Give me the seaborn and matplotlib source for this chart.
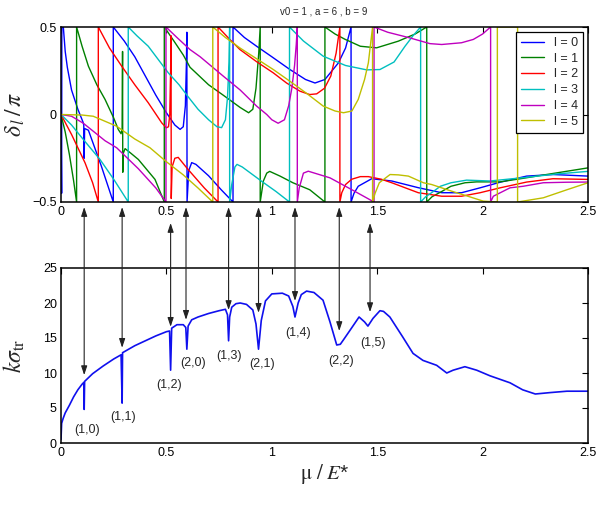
import numpy as np
import pandas as pd
import matplotlib
matplotlib.use("Agg")
import matplotlib.pyplot as plt
import matplotlib.transforms as mtransforms
import seaborn as sns

# ---------------- data: phase shifts delta_l / pi (wrapped to [-0.5, 0.5]) ----------------
l0_x = [0.0, 0.003, 0.004, 0.011, 0.02, 0.03, 0.05, 0.08, 0.105, 0.108, 0.110, 0.112, 0.13, 0.19, 0.248,
        0.248, 0.30, 0.35, 0.40, 0.45, 0.50, 0.54, 0.565, 0.58, 0.59, 0.595, 0.597, 0.598,
        0.606, 0.62, 0.64, 0.70, 0.76, 0.816, 0.816, 0.87, 0.928, 1.0, 1.086, 1.16, 1.205, 1.252,
        1.316, 1.35, 1.376, 1.376, 1.39, 1.41, 1.474, 1.569, 1.694, 1.806, 1.90, 1.988, 2.083, 2.209,
        2.334, 2.5]
l0_y = [0.0, -0.45, 0.5, 0.5, 0.36, 0.27, 0.14, 0.03, -0.045, -0.06, -0.25, -0.08, -0.09, -0.29, -0.5,
        0.5, 0.42, 0.33, 0.22, 0.11, 0.01, -0.06, -0.085, -0.07, 0.05, 0.3, 0.47, -0.5,
        -0.32, -0.275, -0.285, -0.35, -0.43, -0.5, 0.5, 0.44, 0.39, 0.33, 0.257, 0.2, 0.18, 0.2,
        0.295, 0.38, 0.5, -0.5, -0.45, -0.41, -0.367, -0.38, -0.418, -0.447, -0.447, -0.419, -0.387,
        -0.352, -0.343, -0.352]

l1_x = [0.0, 0.02, 0.04, 0.06, 0.074, 0.074, 0.1, 0.13, 0.17, 0.209, 0.25, 0.272, 0.285, 0.29, 0.292,
        0.293, 0.296, 0.304, 0.33, 0.367, 0.446, 0.49, 0.49, 0.53, 0.58, 0.612, 0.70, 0.77, 0.85, 0.89,
        0.91, 0.925, 0.938, 0.945, 0.945, 0.96, 0.976, 0.99, 1.039, 1.10, 1.18, 1.252, 1.252, 1.30,
        1.347, 1.42, 1.497, 1.60, 1.68, 1.735, 1.735, 1.76, 1.806, 1.85, 1.917, 1.972, 2.083, 2.19,
        2.334, 2.5]
l1_y = [0.0, -0.1, -0.23, -0.38, -0.5, 0.5, 0.39, 0.276, 0.17, 0.086, -0.02, -0.086, -0.11, -0.08, 0.36,
        -0.33, -0.22, -0.195, -0.22, -0.257, -0.371, -0.5, 0.5, 0.43, 0.34, 0.27, 0.17, 0.11, 0.04, 0.01,
        0.03, 0.15, 0.35, 0.5, -0.5, -0.38, -0.335, -0.325, -0.352, -0.39, -0.43, -0.5, 0.5, 0.46,
        0.43, 0.39, 0.381, 0.419, 0.46, 0.5, -0.5, -0.47, -0.44, -0.41, -0.39, -0.385, -0.385, -0.365,
        -0.337, -0.305]

l2_x = [0.0, 0.05, 0.114, 0.15, 0.177, 0.177, 0.23, 0.288, 0.35, 0.414, 0.478, 0.50, 0.51, 0.516, 0.52,
        0.522, 0.523, 0.527, 0.54, 0.556, 0.60, 0.68, 0.745, 0.745, 0.80, 0.849, 0.93, 1.007, 1.07,
        1.134, 1.18, 1.213, 1.25, 1.28, 1.305, 1.323, 1.323, 1.332, 1.35, 1.379, 1.42, 1.458, 1.52,
        1.569, 1.695, 1.806, 1.90, 1.988, 2.083, 2.209, 2.334, 2.5]
l2_y = [0.0, -0.114, -0.276, -0.39, -0.5, 0.5, 0.38, 0.276, 0.17, 0.067, -0.048, -0.076, -0.07, 0.0, 0.25,
        0.45, -0.48, -0.3, -0.25, -0.245, -0.31, -0.42, -0.5, 0.5, 0.43, 0.371, 0.3, 0.238, 0.18,
        0.133, 0.114, 0.118, 0.15, 0.22, 0.35, 0.5, -0.5, -0.447, -0.4, -0.37, -0.355, -0.355, -0.37,
        -0.39, -0.447, -0.467, -0.467, -0.447, -0.419, -0.386, -0.367, -0.371]

l3_x = [0.0, 0.05, 0.106, 0.185, 0.25, 0.319, 0.319, 0.36, 0.414, 0.509, 0.56, 0.604, 0.65, 0.70, 0.74,
        0.762, 0.78, 0.79, 0.797, 0.80, 0.80, 0.81, 0.825, 0.835, 0.86, 0.95, 1.02, 1.084, 1.084, 1.15,
        1.244, 1.35, 1.45, 1.513, 1.58, 1.632, 1.67, 1.706, 1.706, 1.73, 1.758, 1.80, 1.85, 1.924,
        2.035, 2.20, 2.35, 2.5]
l3_y = [0.0, -0.06, -0.143, -0.257, -0.37, -0.5, 0.5, 0.45, 0.39, 0.238, 0.17, 0.1, 0.03, -0.03, -0.07,
        -0.075, -0.03, 0.1, 0.3, 0.5, -0.5, -0.4, -0.3, -0.285, -0.3, -0.38, -0.44, -0.5, 0.5, 0.42,
        0.333, 0.28, 0.255, 0.257, 0.3, 0.39, 0.45, 0.5, -0.5, -0.47, -0.447, -0.41, -0.39, -0.375,
        -0.38, -0.36, -0.34, -0.325]

l4_x = [0.0, 0.05, 0.106, 0.209, 0.264, 0.367, 0.45, 0.498, 0.498, 0.55, 0.612, 0.66, 0.77, 0.85,
        0.928, 0.976, 1.0, 1.03, 1.06, 1.08, 1.095, 1.108, 1.116, 1.121, 1.121, 1.13, 1.15, 1.173,
        1.276, 1.38, 1.485, 1.485, 1.55, 1.648, 1.75, 1.806, 1.90, 1.956, 2.0, 2.038, 2.038, 2.051,
        2.13, 2.193, 2.288, 2.40, 2.5]
l4_y = [0.0, -0.01, -0.05, -0.15, -0.19, -0.31, -0.42, -0.5, 0.5, 0.44, 0.371, 0.33, 0.219, 0.14,
        0.048, 0.0, -0.03, -0.05, -0.03, 0.05, 0.15, 0.28, 0.4, 0.5, -0.5, -0.42, -0.335, -0.324,
        -0.362, -0.43, -0.5, 0.5, 0.47, 0.44, 0.405, 0.40, 0.41, 0.429, 0.46, 0.5, -0.5, -0.467,
        -0.419, -0.41, -0.39, -0.387, -0.386]

l5_x = [0.0, 0.10, 0.153, 0.264, 0.35, 0.422, 0.50, 0.58, 0.65, 0.72, 0.72, 0.78, 0.849, 1.007, 1.086,
        1.166, 1.244, 1.30, 1.34, 1.38, 1.41, 1.44, 1.458, 1.478, 1.478, 1.49, 1.51, 1.561, 1.60,
        1.648, 1.719, 1.758, 1.853, 1.93, 2.003, 2.07, 2.07, 2.166, 2.166, 2.288, 2.40, 2.5]
l5_y = [0.0, -0.003, -0.01, -0.067, -0.14, -0.19, -0.27, -0.345, -0.42, -0.5, 0.5, 0.44, 0.38, 0.257, 0.19,
        0.12, 0.048, 0.02, 0.01, 0.02, 0.086, 0.2, 0.295, 0.5, -0.5, -0.45, -0.39, -0.343, -0.345,
        -0.352, -0.39, -0.4, -0.438, -0.467, -0.495, -0.5, 0.5, 0.5, -0.5, -0.476, -0.43, -0.39]

phase_labels = ["l = 0", "l = 1", "l = 2", "l = 3", "l = 4", "l = 5"]
phase_colors = ["#0000ff", "#008000", "#ff0000", "#00bfbf", "#bf00bf", "#bfbf00"]

# ---------------- data: k * sigma_tr ----------------
sig_x = [0.0, 0.003, 0.01, 0.02, 0.04, 0.06, 0.08, 0.10, 0.108, 0.110, 0.112, 0.15, 0.20, 0.25, 0.285,
         0.290, 0.292, 0.35, 0.40, 0.45, 0.50, 0.515, 0.520, 0.525, 0.55, 0.58, 0.592, 0.597, 0.603,
         0.62, 0.65, 0.70, 0.75, 0.78, 0.79, 0.795, 0.80, 0.81, 0.83, 0.85, 0.88, 0.91, 0.925, 0.937,
         0.95, 0.97, 1.0, 1.05, 1.08, 1.10, 1.11, 1.125, 1.14, 1.165, 1.20, 1.243, 1.276, 1.308, 1.325,
         1.339, 1.371, 1.414, 1.44, 1.456, 1.48, 1.513, 1.53, 1.56, 1.62, 1.67, 1.717, 1.782, 1.83,
         1.86, 1.916, 1.972, 2.035, 2.13, 2.19, 2.25, 2.32, 2.40, 2.5]
sig_y = [0.5, 2.8, 3.5, 4.3, 5.4, 6.6, 7.6, 8.4, 8.65, 4.8, 8.8, 9.9, 11.0, 12.0, 12.6,
         5.7, 12.9, 13.9, 14.6, 15.3, 15.9, 16.0, 10.4, 16.4, 16.9, 16.9, 16.5, 13.4, 16.7,
         17.6, 18.0, 18.5, 18.9, 19.1, 18.3, 14.6, 18.0, 19.4, 19.9, 20.0, 19.8, 19.0, 17.0, 13.4,
         17.5, 20.3, 21.3, 21.4, 21.0, 19.5, 18.0, 20.0, 21.2, 21.7, 21.5, 20.4, 17.3, 14.0, 14.1,
         14.7, 16.1, 18.0, 17.3, 16.7, 17.8, 18.9, 18.8, 18.0, 15.2, 12.8, 11.8, 11.1, 10.0,
         10.4, 10.9, 10.4, 9.6, 8.6, 7.6, 7.0, 7.2, 7.4, 7.4]

# resonance annotations
res_labels = ["(1,0)", "(1,1)", "(1,2)", "(2,0)", "(1,3)", "(2,1)", "(1,4)", "(2,2)", "(1,5)"]
res_x = [0.11, 0.29, 0.52, 0.593, 0.795, 0.937, 1.11, 1.32, 1.466]
res_tip = [9.7, 13.6, 16.6, 17.6, 19.0, 18.6, 20.3, 16.0, 18.7]
res_top = ["high", "high", "low", "high", "high", "high", "high", "high", "low"]
lab_x = [0.123, 0.294, 0.512, 0.626, 0.796, 0.953, 1.125, 1.328, 1.48]
lab_y = [1.9, 3.7, 8.3, 11.4, 12.4, 11.3, 15.7, 11.7, 14.3]

# ---------------- styling ----------------
sns.set_theme(style="white")
plt.rcParams["font.family"] = ["Liberation Sans", "DejaVu Sans"]
plt.rcParams["mathtext.fontset"] = "stix"

W, H = 603, 508
fig = plt.figure(figsize=(W / 100, H / 100), dpi=100)
ax_top = fig.add_axes([61 / W, 1 - 202 / H, 527 / W, 175 / H])
ax_bot = fig.add_axes([61 / W, 1 - 443 / H, 527 / W, 175 / H])

phase_x = [l0_x, l1_x, l2_x, l3_x, l4_x, l5_x]
phase_y = [l0_y, l1_y, l2_y, l3_y, l4_y, l5_y]
for xs, ys, lab, col in zip(phase_x, phase_y, phase_labels, phase_colors):
    sns.lineplot(x=xs, y=ys, ax=ax_top, sort=False, estimator=None, color=col,
                 linewidth=1.0, label=lab)

sns.lineplot(x=sig_x, y=sig_y, ax=ax_bot, sort=False, estimator=None, color="#1010ee",
             linewidth=1.2)

for ax in (ax_top, ax_bot):
    ax.set_xlim(0, 2.5)
    ax.set_xticks([0, 0.5, 1, 1.5, 2, 2.5])
    ax.set_xticklabels(["0", "0.5", "1", "1.5", "2", "2.5"])
    ax.tick_params(direction="in", top=True, right=True, length=4, width=0.8,
                   labelsize=9, pad=3, colors="black")
    for s in ax.spines.values():
        s.set_color("black")
        s.set_linewidth(1.1)
    ax.grid(False)

ax_top.set_ylim(-0.5, 0.5)
ax_top.set_yticks([-0.5, 0, 0.5])
ax_top.set_yticklabels(["\u22120.5", "0", "0.5"])
ax_bot.set_ylim(0, 25)
ax_bot.set_yticks([0, 5, 10, 15, 20, 25])

ax_top.set_ylabel(r"$\delta_{\,l}\,/\,\pi$", fontsize=17)
ax_top.yaxis.set_label_coords(-0.065, 0.5)
ax_bot.set_ylabel(r"$k\sigma_{\rm tr}$", fontsize=17)
ax_bot.yaxis.set_label_coords(-0.065, 0.5)
ax_bot.set_xlabel(r"$\mathrm{\mu}\ /\ E$*", fontsize=15, labelpad=2)
ax_top.set_xlabel("")

fig.text(324 / W, 1 - 12 / H, "v0 = 1 , a = 6 , b = 9", ha="center", va="center", fontsize=7)

leg = ax_top.legend(loc="upper right", fontsize=9, frameon=True, fancybox=False,
                    edgecolor="black", framealpha=1, handlelength=1.8, labelspacing=0.3,
                    borderaxespad=0.4, borderpad=0.4)
leg.get_frame().set_linewidth(0.9)

# double-headed arrows linking the two panels
blend = mtransforms.blended_transform_factory(ax_bot.transData, ax_top.transAxes)
for xr, tip, top in zip(res_x, res_tip, res_top):
    yfrac = -0.029 if top == "high" else -0.12
    ann = ax_bot.annotate("", xy=(xr, tip), xycoords="data", xytext=(xr, yfrac), textcoords=blend,
                          arrowprops=dict(arrowstyle="<|-|>,head_length=0.45,head_width=0.15",
                                          color="#222222", lw=0.8, shrinkA=0, shrinkB=0),
                          annotation_clip=False)
    ann.set_clip_on(False)
    ann.arrow_patch.set_clip_on(False)

for t, xl, yl in zip(res_labels, lab_x, lab_y):
    ax_bot.text(xl, yl, t, ha="center", va="center", fontsize=9)

fig.savefig("out.png", dpi=100)
